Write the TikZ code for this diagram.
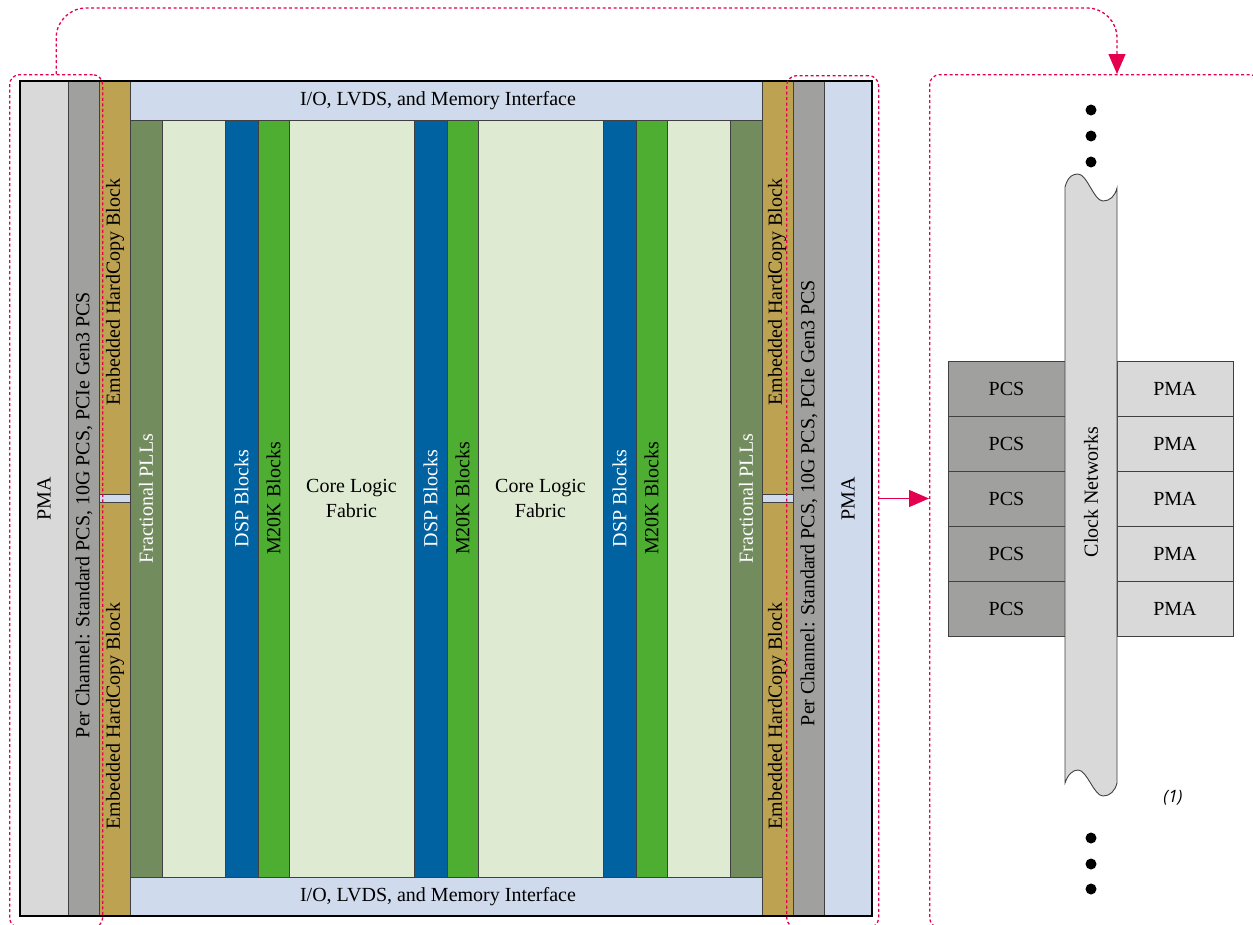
\documentclass[tikz,border=0pt]{standalone}
\usepackage{fontspec}
\setmainfont{Liberation Serif}
\newfontfamily\notefont{Open Sans}
\usetikzlibrary{arrows.meta}
\usetikzlibrary{positioning}
\definecolor{pmagray}{HTML}{D9D9D9}
\definecolor{pcsgray}{HTML}{A0A09F}
\definecolor{hardtan}{HTML}{BDA252}
\definecolor{iofill}{HTML}{CFDAEC}
\definecolor{pllgreen}{HTML}{728C5E}
\definecolor{corefill}{HTML}{DFEAD2}
\definecolor{dspblue}{HTML}{0062A0}
\definecolor{memgreen}{HTML}{4DAE32}
\definecolor{linkred}{HTML}{E4004E}
\tikzset {
  block/.style = {
    draw = black!75,
    line width = 0.8pt,
    anchor = north west,
    inner sep = 0,
    outer sep = 0
  },
  % column over the whole height of the device
  fullcol/.style = {
    block,
    minimum height = 835pt
  },
  % column between the two I/O rows
  corecol/.style = {
    block,
    minimum height = 757pt
  },
  % rotated label of a column
  vtext/.style = {
    rotate = 90,
    inner sep = 0
  }
}
\tikzset {
  % dashed group outline
  grp/.style = {
    draw = linkred,
    line width = 1.3pt,
    dash pattern = on 3pt off 2.5pt,
    rounded corners = 10pt,
    anchor = north west,
    inner sep = 0
  },
  link/.style = {
    draw = linkred,
    line width = 1.3pt,
    dash pattern = on 3pt off 2.5pt,
    rounded corners = 30pt,
    -{Triangle[length = 20pt, width = 17pt]}
  },
  feed/.style = {
    draw = linkred,
    line width = 1.3pt,
    -{Triangle[length = 20pt, width = 17pt]}
  }
}

\begin{document}
\begin{tikzpicture}[x = 1pt, y = -1pt, font = \fontsize{20}{25}\selectfont]
    \useasboundingbox (0,0) rectangle (1253,924);

    % left transceiver columns
    \node[fullcol, fill = pmagray, minimum width = 48pt] (pmaL) at (20,81) {};
    \node[fullcol, fill = pcsgray, minimum width = 31pt] (pcsL) at (68,81) {};
    \node[block, fill = hardtan, minimum width = 31pt, minimum height = 413pt] (hcL1) at (99,81) {};
    \node[block, fill = iofill, minimum width = 31pt, minimum height = 8pt] (gapL) at (99,494) {};
    \node[block, fill = hardtan, minimum width = 31pt, minimum height = 414pt] (hcL2) at (99,502) {};
    \node[vtext] (pmaLtxt) at (pmaL.center) {PMA};
    \node[vtext] (pcsLtxt) at (84,515) {Per Channel: Standard PCS, 10G PCS, PCIe Gen3 PCS};
    \node[vtext] (hcL1txt) at (115,292) {Embedded HardCopy Block};
    \node[vtext] (hcL2txt) at (115,716) {Embedded HardCopy Block};

    % I/O rows
    \node[block, fill = iofill, minimum width = 632pt, minimum height = 39pt] (ioTop) at (130,81) {};
    \node[block, fill = iofill, minimum width = 632pt, minimum height = 39pt] (ioBot) at (130,877) {};
    \node (ioToptxt) at ([xshift = -8pt] ioTop.center) {I/O, LVDS, and Memory Interface};
    \node (ioBottxt) at ([xshift = -8pt] ioBot.center) {I/O, LVDS, and Memory Interface};

    % core columns
    \node[corecol, fill = pllgreen, minimum width = 32pt] (pllL) at (130,120) {};
    \node[corecol, fill = corefill, minimum width = 63pt] (fabL) at (162,120) {};
    \node[corecol, fill = corefill, minimum width = 125pt, align = center] (fab1) at (289,120) {Core Logic\\Fabric};
    \node[corecol, fill = corefill, minimum width = 125pt, align = center] (fab2) at (478,120) {Core Logic\\Fabric};
    \node[corecol, fill = corefill, minimum width = 63pt] (fabR) at (667,120) {};
    \node[corecol, fill = pllgreen, minimum width = 32pt] (pllR) at (730,120) {};
    \foreach \i/\x in {1/225, 2/414, 3/603} {
      \node[corecol, fill = dspblue, minimum width = 33pt] (dsp\i) at (\x,120) {};
      \node[corecol, fill = memgreen, minimum width = 31pt] (mem\i) at (\x+33,120) {};
      \node[vtext, text = white] (dsp\i txt) at (dsp\i.center) {DSP Blocks};
      \node[vtext] (mem\i txt) at (mem\i.center) {M20K Blocks};
    }
    \node[vtext, text = white] (pllLtxt) at (pllL.center) {Fractional PLLs};
    \node[vtext, text = white] (pllRtxt) at (pllR.center) {Fractional PLLs};

    % right transceiver columns
    \node[block, fill = hardtan, minimum width = 31pt, minimum height = 413pt] (hcR1) at (762,81) {};
    \node[block, fill = iofill, minimum width = 31pt, minimum height = 8pt] (gapR) at (762,494) {};
    \node[block, fill = hardtan, minimum width = 31pt, minimum height = 414pt] (hcR2) at (762,502) {};
    \node[fullcol, fill = pcsgray, minimum width = 31pt] (pcsR) at (793,81) {};
    \node[fullcol, fill = iofill, minimum width = 48pt] (pmaR) at (824,81) {};
    \node[vtext] (hcR1txt) at (777,292) {Embedded HardCopy Block};
    \node[vtext] (hcR2txt) at (777,716) {Embedded HardCopy Block};
    \node[vtext] (pcsRtxt) at (809,503) {Per Channel: Standard PCS, 10G PCS, PCIe Gen3 PCS};
    \node[vtext] (pmaRtxt) at (pmaR.center) {PMA};

    \draw[line width = 1.3pt] (pmaL.north west) rectangle (pmaR.south east);

    % channel detail
    \foreach \i in {0,...,4} {
      \node[block, fill = pcsgray, minimum width = 117pt, minimum height = 55pt] (pcs\i) at (948,361+55*\i) {PCS};
      \node[block, fill = pmagray, minimum width = 116pt, minimum height = 55pt] (pma\i) at (1117,361+55*\i) {PMA};
    }
    \path[draw = black!75, line width = 0.9pt, fill = pmagray]
      (1065,187) .. controls (1068,176) and (1073,174) .. (1078,174)
      .. controls (1087,174) and (1094,201) .. (1103,201)
      .. controls (1110,201) and (1115,196) .. (1117,188)
      -- (1117,783)
      .. controls (1115,791) and (1110,796) .. (1103,796)
      .. controls (1094,796) and (1087,770) .. (1078,770)
      .. controls (1073,770) and (1068,774) .. (1065,783) -- cycle;
    \node[vtext] (clk) at (1091,492) {Clock Networks};
    \foreach \y in {110,136,162,838,864,889}
      \fill (1091,\y) circle (5.5pt);
    \node[font = \notefont\itshape\fontsize{17}{20}\selectfont] (note) at (1173,798) {(1)};

    % dashed groups and links
    \node[grp, minimum width = 93pt, minimum height = 853pt] (grpL) at (9,74) {};
    \node[grp, minimum width = 92pt, minimum height = 852pt] (grpM) at (786,75) {};
    \node[grp, minimum width = 330pt, minimum height = 853pt] (grpR) at (929,74) {};
    \coordinate (hop) at (grpL.north |- 0,8);
    \coordinate (drop) at (1117,74);
    \draw[link] (grpL.north) -- (hop) -| (drop);
    \draw[feed] (grpM.east |- pmaR.center) -- (grpR.west |- pmaR.center);
\end{tikzpicture}
\end{document}
